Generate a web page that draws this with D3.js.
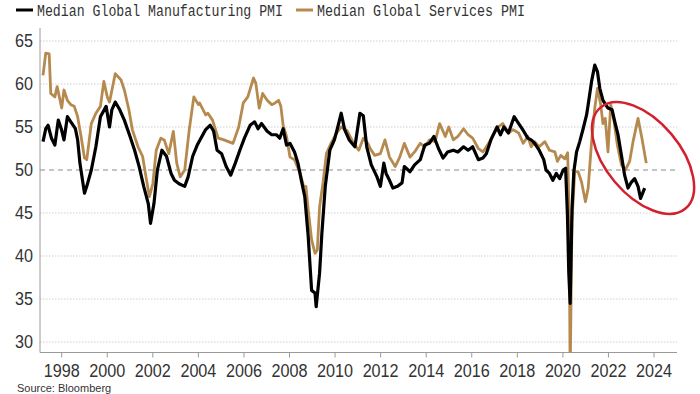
<!DOCTYPE html>
<html>
<head>
<meta charset="utf-8">
<script src="https://cdn.jsdelivr.net/npm/d3@7"></script>
<style>
  body { margin: 0; background: #fff; }
  svg { display: block; }
</style>
</head>
<body>
<script>
/* PMI data (decimal years, index values) */

const seriesNames = ["Median Global Manufacturing PMI", "Median Global Services PMI"];

const mfgYears = [1997.18,1997.30,1997.40,1997.55,1997.70,1997.85,1997.98,1998.10,1998.25,1998.40,1998.60,1998.70,1998.80,1999.00,1999.10,1999.30,1999.50,1999.70,1999.95,2000.10,2000.20,2000.35,2000.55,2000.75,2001.00,2001.20,2001.40,2001.60,2001.80,2001.90,2002.05,2002.20,2002.40,2002.60,2002.80,2002.95,2003.15,2003.40,2003.55,2003.75,2003.95,2004.07,2004.32,2004.52,2004.67,2004.82,2005.02,2005.22,2005.42,2005.62,2005.82,2006.02,2006.27,2006.47,2006.62,2006.77,2007.02,2007.22,2007.42,2007.57,2007.72,2007.87,2008.02,2008.22,2008.37,2008.52,2008.67,2008.82,2008.97,2009.12,2009.17,2009.32,2009.42,2009.57,2009.77,2009.97,2010.12,2010.27,2010.42,2010.62,2010.87,2011.09,2011.24,2011.39,2011.59,2011.84,2011.99,2012.14,2012.24,2012.39,2012.54,2012.74,2012.94,2013.04,2013.29,2013.49,2013.74,2013.94,2014.14,2014.34,2014.54,2014.74,2014.94,2015.19,2015.39,2015.64,2015.84,2016.04,2016.29,2016.49,2016.64,2016.84,2017.11,2017.26,2017.41,2017.61,2017.86,2018.06,2018.26,2018.46,2018.61,2018.76,2018.96,2019.16,2019.26,2019.41,2019.56,2019.71,2019.86,2020.01,2020.12,2020.20,2020.26,2020.32,2020.40,2020.48,2020.60,2020.74,2020.89,2021.04,2021.11,2021.26,2021.40,2021.52,2021.62,2021.76,2021.98,2022.16,2022.28,2022.42,2022.57,2022.71,2022.86,2023.01,2023.15,2023.30,2023.41,2023.59];
const mfgValues = [53.3,54.8,55.2,53.7,52.9,55.8,54.8,53.5,56.2,55.6,54.8,53.5,50.8,47.3,48.1,50.0,52.7,56.2,57.4,55.0,57.0,57.9,57.0,55.8,53.9,52.3,50.4,48.1,46.1,43.8,46.1,50.0,52.3,51.6,49.6,48.8,48.4,48.1,49.2,51.6,52.9,53.5,54.7,55.2,54.5,52.3,51.9,50.4,49.4,50.8,52.3,53.7,55.2,55.6,54.8,55.4,54.5,54.1,54.1,53.7,54.8,52.9,53.1,52.1,50.8,48.8,46.9,42.3,36.0,35.7,34.1,38.0,42.6,48.1,52.3,53.5,55.0,56.6,54.7,53.5,52.7,56.6,56.3,52.7,50.6,49.2,48.1,50.8,49.6,48.8,47.9,48.1,48.5,50.4,49.8,50.6,51.2,52.9,53.1,53.9,52.5,51.4,52.1,52.3,52.1,52.7,52.3,52.7,51.2,51.4,51.9,53.5,55.0,54.1,55.0,54.3,56.2,55.4,54.6,53.7,53.5,53.1,52.3,51.2,50.0,49.6,48.8,49.6,49.0,50.0,50.2,44.8,38.0,34.5,45.4,49.8,52.1,53.3,54.8,56.4,57.6,60.3,62.2,61.4,59.5,58.1,57.2,57.0,55.6,54.1,51.7,49.4,47.9,48.6,49.0,48.1,46.7,47.9];

const svcYears = [1997.18,1997.30,1997.45,1997.52,1997.70,1997.80,1998.00,1998.10,1998.25,1998.40,1998.55,1998.70,1998.85,1999.00,1999.10,1999.30,1999.50,1999.70,1999.85,2000.00,2000.10,2000.35,2000.60,2000.75,2000.95,2001.10,2001.35,2001.55,2001.70,2001.85,2002.00,2002.15,2002.35,2002.50,2002.70,2002.90,2003.05,2003.20,2003.40,2003.60,2003.80,2004.00,2004.05,2004.32,2004.42,2004.62,2004.87,2005.12,2005.32,2005.52,2005.77,2005.97,2006.17,2006.42,2006.52,2006.67,2006.82,2007.02,2007.22,2007.37,2007.52,2007.62,2007.72,2007.87,2008.02,2008.22,2008.47,2008.62,2008.72,2008.82,2008.97,2009.12,2009.22,2009.32,2009.47,2009.62,2009.82,2010.07,2010.27,2010.52,2010.82,2011.04,2011.24,2011.44,2011.54,2011.74,2011.99,2012.19,2012.39,2012.64,2012.84,2013.04,2013.29,2013.49,2013.74,2013.94,2014.14,2014.39,2014.59,2014.84,2014.99,2015.19,2015.39,2015.64,2015.84,2016.04,2016.29,2016.49,2016.74,2016.94,2017.16,2017.36,2017.61,2017.81,2018.06,2018.26,2018.46,2018.61,2018.76,2018.96,2019.21,2019.41,2019.65,2019.76,2019.91,2020.09,2020.21,2020.27,2020.32,2020.40,2020.52,2020.67,2020.82,2020.99,2021.11,2021.26,2021.40,2021.52,2021.66,2021.76,2021.86,2021.98,2022.10,2022.25,2022.39,2022.57,2022.74,2022.93,2023.08,2023.30,2023.47,2023.66];
const svcValues = [61.0,63.6,63.5,58.9,58.5,59.7,57.2,59.3,58.1,57.6,57.4,56.2,53.9,51.4,51.2,55.4,56.6,57.4,60.3,58.5,57.9,61.2,60.5,59.3,57.0,54.7,52.7,51.6,49.2,46.9,48.4,52.3,53.7,53.5,51.9,54.5,50.8,49.2,50.0,54.7,58.5,57.6,57.8,56.4,56.6,55.8,53.7,53.5,53.3,53.1,55.0,57.8,58.5,60.7,60.1,57.2,58.9,58.1,57.6,57.8,58.1,57.4,55.2,53.9,51.5,51.2,49.6,48.1,48.1,45.4,41.9,40.3,40.7,45.7,48.5,51.9,53.1,54.3,55.0,54.6,53.1,52.3,53.7,53.1,52.5,51.7,51.9,53.5,51.5,50.4,51.5,53.1,51.5,52.1,53.1,52.7,53.5,53.3,55.4,53.9,55.0,53.5,53.9,54.8,54.1,53.7,52.5,52.1,53.1,54.1,55.0,55.4,54.3,54.7,54.3,53.1,53.9,52.7,53.3,52.7,53.3,52.3,52.1,51.0,51.7,51.3,52.0,45.0,26.0,44.0,49.8,49.8,48.6,46.3,47.9,53.3,57.2,59.5,57.6,55.4,56.0,52.1,57.6,55.6,52.9,50.6,50.0,51.0,53.3,56.0,53.7,50.8];

const yTicks = [30, 35, 40, 45, 50, 55, 60, 65];
const xTicks = [1998, 2000, 2002, 2004, 2006, 2008, 2010, 2012, 2014, 2016, 2018, 2020, 2022, 2024];

/* Chart size */

const w = 700,
      h = 394,
      plotLeft = 40,
      plotRight = 677,
      plotTop = 28,
      plotBottom = 352.5;

const mfgColor = "#000000",
      svcColor = "#b68a4e";

/* Scales */

const x = d3.scaleLinear().domain([1998, 2024]).range([61.7, 654]);
const y = d3.scaleLinear().domain([30, 65]).range([342, 41]);

/* SVG */

const svg = d3.select("body")
  .append("svg")
  .attr("width", w)
  .attr("height", h);

svg.append("defs").append("clipPath")
  .attr("id", "plot-clip")
  .append("rect")
  .attr("x", plotLeft)
  .attr("y", plotTop)
  .attr("width", plotRight - plotLeft)
  .attr("height", plotBottom - plotTop);

/* Gridlines */

svg.append("g").selectAll("line")
  .data(yTicks)
  .enter()
  .append("line")
  .attr("x1", plotLeft)
  .attr("x2", plotRight)
  .attr("y1", d => y(d))
  .attr("y2", d => y(d))
  .attr("stroke", d => d === 50 ? "#8a8a8a" : "#cfcfcf")
  .attr("stroke-width", d => d === 50 ? 1.1 : 1)
  .attr("stroke-dasharray", d => d === 50 ? "5,4" : "1.5,1.5");

/* Y labels */

svg.append("g").selectAll("text")
  .data(yTicks)
  .enter()
  .append("text")
  .attr("x", 33)
  .attr("y", d => y(d))
  .attr("dy", "0.36em")
  .attr("text-anchor", "end")
  .attr("font-family", "'Liberation Sans', Arial, sans-serif")
  .attr("font-size", 18)
  .attr("textLength", 18)
  .attr("lengthAdjust", "spacingAndGlyphs")
  .attr("fill", "#333")
  .text(d => d);

/* Axis lines */

svg.append("line")
  .attr("x1", plotLeft).attr("x2", plotLeft)
  .attr("y1", plotTop).attr("y2", plotBottom)
  .attr("stroke", "#9a9a9a");

svg.append("line")
  .attr("x1", plotLeft).attr("x2", plotRight)
  .attr("y1", plotBottom).attr("y2", plotBottom)
  .attr("stroke", "#9a9a9a");

/* X ticks + labels */

const xg = svg.append("g");

xg.selectAll("line")
  .data(xTicks)
  .enter()
  .append("line")
  .attr("x1", d => x(d))
  .attr("x2", d => x(d))
  .attr("y1", plotBottom)
  .attr("y2", plotBottom + 5)
  .attr("stroke", "#9a9a9a");

xg.selectAll("text")
  .data(xTicks)
  .enter()
  .append("text")
  .attr("x", d => x(d))
  .attr("y", 377)
  .attr("text-anchor", "middle")
  .attr("font-family", "'Liberation Sans', Arial, sans-serif")
  .attr("font-size", 18)
  .attr("textLength", 36)
  .attr("lengthAdjust", "spacingAndGlyphs")
  .attr("fill", "#333")
  .text(d => d);

/* Lines */

const line = d3.line()
  .x(d => x(d[0]))
  .y(d => y(d[1]));

const lines = svg.append("g").attr("clip-path", "url(#plot-clip)");

lines.append("path")
  .datum(d3.zip(svcYears, svcValues))
  .attr("d", line)
  .attr("fill", "none")
  .attr("stroke", svcColor)
  .attr("stroke-width", 2.8)
  .attr("stroke-linejoin", "round");

lines.append("path")
  .datum(d3.zip(mfgYears, mfgValues))
  .attr("d", line)
  .attr("fill", "none")
  .attr("stroke", mfgColor)
  .attr("stroke-width", 3.2)
  .attr("stroke-linejoin", "round");

/* Annotation ellipse */

svg.append("ellipse")
  .attr("transform", "translate(" + x(2023.52) + "," + y(51.4) + ") rotate(50)")
  .attr("rx", 66)
  .attr("ry", 37)
  .attr("fill", "none")
  .attr("stroke", "#d3202f")
  .attr("stroke-width", 2.5);

/* Legend */

const legend = svg.append("g").attr("id", "legend");
const legendItems = [
  { name: seriesNames[0], color: mfgColor, x: 16, len: 246 },
  { name: seriesNames[1], color: svcColor, x: 296, len: 208 }
];

legendItems.forEach(item => {
  legend.append("line")
    .attr("x1", item.x).attr("x2", item.x + 17)
    .attr("y1", 10).attr("y2", 10)
    .attr("stroke", item.color)
    .attr("stroke-width", 3);
  legend.append("text")
    .attr("x", item.x + 21)
    .attr("y", 15.5)
    .attr("font-family", "'Liberation Mono', 'DejaVu Sans Mono', monospace")
    .attr("font-size", 16)
    .attr("textLength", item.len)
    .attr("lengthAdjust", "spacingAndGlyphs")
    .attr("fill", "#333")
    .text(item.name);
});

/* Source */

svg.append("text")
  .attr("x", 17)
  .attr("y", 392)
  .attr("font-family", "'Liberation Sans', Arial, sans-serif")
  .attr("font-size", 11)
  .attr("fill", "#333")
  .text("Source: Bloomberg");
</script>
</body>
</html>
